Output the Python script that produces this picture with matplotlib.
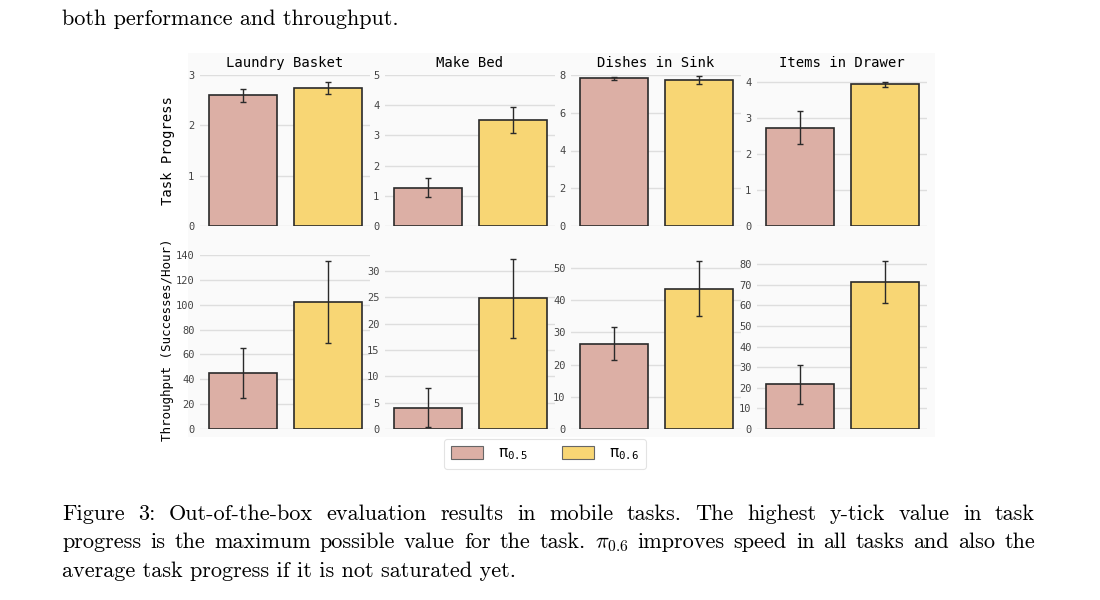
import matplotlib
matplotlib.use("Agg")
import matplotlib.pyplot as plt
from matplotlib.patches import Patch, Rectangle
from matplotlib.font_manager import FontProperties

# data
tasks = ["Laundry Basket", "Make Bed", "Dishes in Sink", "Items in Drawer"]
policies = [r"π$_{\mathtt{0.5}}$", r"π$_{\mathtt{0.6}}$"]
colors = ["#dcafa5", "#f8d674"]

progress_05 = [2.60, 1.27, 7.82, 2.73]
progress_05_err = [0.13, 0.31, 0.10, 0.46]
progress_06 = [2.74, 3.50, 7.72, 3.94]
progress_06_err = [0.12, 0.43, 0.21, 0.06]
progress_ticks = [[0, 1, 2, 3], [0, 1, 2, 3, 4, 5], [0, 2, 4, 6, 8], [0, 1, 2, 3, 4]]
progress_top = [3.0, 5.0, 8.0, 4.2]

throughput_05 = [45.0, 4.0, 26.5, 21.7]
throughput_05_err = [20.0, 3.7, 5.2, 9.5]
throughput_06 = [102.0, 24.8, 43.6, 71.5]
throughput_06_err = [33.0, 7.5, 8.6, 10.2]
throughput_ticks = [list(range(0, 141, 20)), list(range(0, 31, 5)),
                    list(range(0, 51, 10)), list(range(0, 81, 10))]
throughput_top = [140, 33.0, 54.0, 84.4]

W, H = 1100, 600
MONO = "DejaVu Sans Mono"
SERIF = "cmr10"

fig = plt.figure(figsize=(11, 6), dpi=100)
fig.patch.set_facecolor("white")

# faint panel behind the grid of plots
fig.patches.append(Rectangle((188 / W, 1 - 437 / H), (935 - 188) / W, (437 - 53) / H,
                             transform=fig.transFigure, facecolor="#fafafa",
                             edgecolor="none", zorder=-1))

lefts = [200, 385, 571, 757]
ax_w = 170


def draw_panel(ax, v5, e5, v6, e6, ticks, top):
  ax.set_facecolor("none")
  ax.bar([0, 1], [v5, v6], width=0.8, color=colors, edgecolor="#2a2a2a",
         linewidth=1.2, zorder=3)
  ax.errorbar([0, 1], [v5, v6], yerr=[e5, e6], fmt="none", ecolor="#2a2a2a",
              elinewidth=1.0, capsize=2.5, capthick=1.0, zorder=4)
  ax.set_xlim(-0.5, 1.5)
  ax.set_ylim(0, top)
  ax.set_yticks(ticks)
  ax.set_xticks([])
  ax.grid(axis="y", color="#dedede", linewidth=1.0, zorder=0)
  for s in ax.spines.values():
    s.set_visible(False)
  ax.tick_params(axis="y", length=0, pad=4, labelsize=7.5, labelcolor="#444444")
  for lab in ax.get_yticklabels():
    lab.set_fontfamily(MONO)


for i in range(4):
  # top row: task progress
  ax = fig.add_axes([lefts[i] / W, 1 - 226 / H, ax_w / W, (226 - 75) / H])
  draw_panel(ax, progress_05[i], progress_05_err[i], progress_06[i],
             progress_06_err[i], progress_ticks[i], progress_top[i])
  ax.set_title(tasks[i], fontfamily=MONO, fontsize=10, pad=6)
  if i == 0:
    ax.set_ylabel("Task Progress", fontfamily=MONO, fontsize=10)
    ax.yaxis.set_label_coords((175 - 200) / ax_w, 0.5)

  # bottom row: throughput
  ax = fig.add_axes([lefts[i] / W, 1 - 429 / H, ax_w / W, (429 - 255) / H])
  draw_panel(ax, throughput_05[i], throughput_05_err[i], throughput_06[i],
             throughput_06_err[i], throughput_ticks[i], throughput_top[i])
  if i == 0:
    ax.set_ylabel("Throughput (Successes/Hour)", fontfamily=MONO, fontsize=9)
    ax.yaxis.set_label_coords((174 - 200) / ax_w, (429 - 340) / (429 - 255))

handles = [Patch(facecolor=colors[0], edgecolor="#666666", linewidth=0.8),
           Patch(facecolor=colors[1], edgecolor="#666666", linewidth=0.8)]
leg = fig.legend(handles, policies, loc="center", bbox_to_anchor=(545 / W, 1 - 454 / H),
                 ncol=2, frameon=True, fancybox=True, handlelength=2.1, handleheight=0.9,
                 columnspacing=2.2, handletextpad=1.0, borderpad=0.45,
                 prop=FontProperties(family=MONO, size=11, math_fontfamily="dejavusans"))
leg.get_frame().set_edgecolor("#dddddd")
leg.get_frame().set_linewidth(0.8)

# surrounding paper text
fs = 16
fig.text(62 / W, 1 - 25 / H, "both performance and throughput.", fontfamily=SERIF,
         fontsize=fs, va="baseline", ha="left")

caption = [
  "Figure 3: Out-of-the-box evaluation results in mobile tasks.  The highest y-tick value in task",
  r"progress is the maximum possible value for the task. $\pi_{0.6}$ improves speed in all tasks and also the",
  "average task progress if it is not saturated yet.",
]
baselines = [520, 548, 577]
x0, x1 = 62, 1035

renderer = fig.canvas.get_renderer()
for k, line in enumerate(caption):
  y = 1 - baselines[k] / H
  if k == len(caption) - 1:
    fig.text(x0 / W, y, line, fontfamily=SERIF, fontsize=fs, va="baseline", ha="left")
    continue
  words = line.split()
  texts = []
  widths = []
  for w in words:
    t = fig.text(0, y, w, fontfamily=SERIF, fontsize=fs, va="baseline", ha="left",
                 math_fontfamily="cm")
    texts.append(t)
    widths.append(t.get_window_extent(renderer).width)
  gap = (x1 - x0 - sum(widths)) / (len(words) - 1)
  x = x0
  for t, wd in zip(texts, widths):
    t.set_x(x / W)
    x += wd + gap

fig.savefig("out.png", dpi=100)
